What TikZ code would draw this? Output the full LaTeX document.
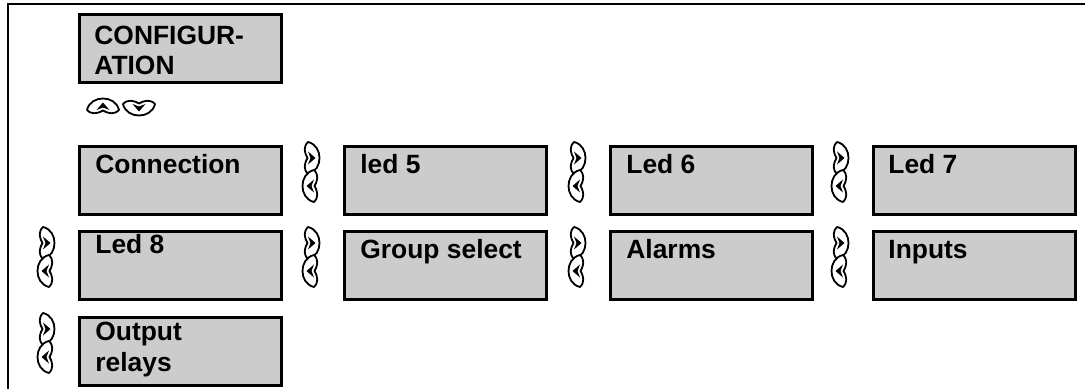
\documentclass[tikz,border=0pt]{standalone}
\usepackage{fontspec}
\setmainfont{Liberation Sans}
\definecolor{screengray}{gray}{0.8}
\begin{document}
\begin{tikzpicture}[x=0.5pt,y=-0.5pt,
  screen/.style={draw=black, line width=1.5pt, fill=screengray, rectangle,
    anchor=north west, inner sep=0pt, minimum width=101pt, minimum height=34pt},
  caption/.style={anchor=base west, inner sep=0pt, align=left,
    font=\bfseries\fontsize{13.2}{15}\selectfont},
  keyline/.style={draw=black, line width=0.9pt, fill=white, line join=round},
  % one key of the cursor pad: arrow pointing up, notch facing down
  padkey/.pic={
    \path[keyline] (-16,3) .. controls (-14,-5) and (-7,-8.5) .. (0,-8.5)
      .. controls (7,-8.5) and (14,-5) .. (16,3)
      .. controls (11,8) and (6,6) .. (3,5)
      .. controls (1.5,4.5) .. (0,3.5)
      .. controls (-1.5,4.5) .. (-3,5)
      .. controls (-6,6) and (-11,8) .. (-16,3) -- cycle;
    \fill (-6.5,3) -- (0,-4.5) -- (6.5,3) -- (0,0.5) -- cycle;
  },
  % right/left key pair placed beside a screen row
  keypair/.pic={
    \pic[rotate=-90] at (0,13) {padkey};
    \pic[rotate=90] at (0,41) {padkey};
  }
]
\useasboundingbox (0,0) rectangle (1085,389);

% frame
\draw[line width=0.85pt] (1085,4) -- (8,4) -- (8,389);

% menu title and up/down keys
\node[screen] (config) at (78,13) {};
\node[caption] (configtxt) at (94,75) {CONFIGUR-\\ATION};
\pic at (103,107) {padkey};
\pic[rotate=180] at (139,107) {padkey};

% row 1
\node[screen] (conn) at (78,145) {};
\node[screen] (led5) at (343,145) {};
\node[screen] (led6) at (609,145) {};
\node[screen] (led7) at (872,145) {};
\node[caption] (conntxt) at (95,174) {Connection};
\node[caption] (led5txt) at (360,174) {led 5};
\node[caption] (led6txt) at (626,174) {Led 6};
\node[caption] (led7txt) at (888,174) {Led 7};
\pic at (311,145) {keypair};
\pic at (577,145) {keypair};
\pic at (840,145) {keypair};

% row 2
\node[screen] (led8) at (78,230) {};
\node[screen] (group) at (343,230) {};
\node[screen] (alarms) at (609,230) {};
\node[screen] (inputs) at (872,230) {};
\node[caption] (led8txt) at (95,254) {Led 8};
\node[caption] (grouptxt) at (360,259) {Group select};
\node[caption] (alarmstxt) at (626,259) {Alarms};
\node[caption] (inputstxt) at (888,259) {Inputs};
\pic at (46,230) {keypair};
\pic at (311,230) {keypair};
\pic at (577,230) {keypair};
\pic at (840,230) {keypair};

% row 3
\node[screen] (relays) at (78,316) {};
\node[caption] (relaystxt) at (95,371) {Output\\relays};
\pic at (46,316) {keypair};
\end{tikzpicture}
\end{document}
